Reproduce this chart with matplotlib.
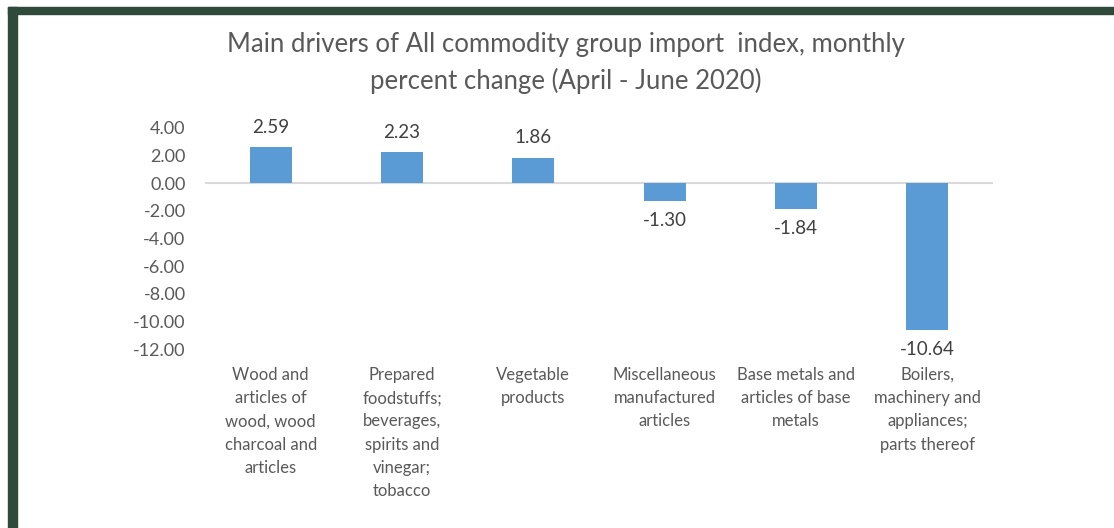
import matplotlib
matplotlib.use("Agg")

import matplotlib.pyplot as plt
from matplotlib.patches import Rectangle

categories = [
    "Wood and\narticles of\nwood, wood\ncharcoal and\narticles",
    "Prepared\nfoodstuffs;\nbeverages,\nspirits and\nvinegar;\ntobacco",
    "Vegetable\nproducts",
    "Miscellaneous\nmanufactured\narticles",
    "Base metals and\narticles of base\nmetals",
    "Boilers,\nmachinery and\nappliances;\nparts thereof",
]
values = [2.59, 2.23, 1.86, -1.30, -1.84, -10.64]
y_ticks = [4, 2, 0, -2, -4, -6, -8, -10, -12]

title = ("Main drivers of All commodity group import  index, monthly\n"
         "percent change (April - June 2020)")

plt.rcParams["font.family"] = ["Lato", "DejaVu Sans"]

W, H = 1114, 528
fig = plt.figure(figsize=(W / 100, H / 100), dpi=100)
fig.patch.set_facecolor("white")

# dark green frame on left and top
fig.patches.append(Rectangle((8 / W, 0), 9 / W, (H - 7) / H,
                             transform=fig.transFigure, color="#2F4A3A", zorder=0))
fig.patches.append(Rectangle((8 / W, (H - 14) / H), (W - 8) / W, 7 / H,
                             transform=fig.transFigure, color="#2F4A3A", zorder=0))

ax = fig.add_axes([205 / W, (H - 349) / H, (993 - 205) / W, (349 - 128) / H])
x = list(range(len(values)))
ax.bar(x, values, width=0.32, color="#5B9BD5", zorder=2)
ax.axhline(0, color="#D9D9D9", lw=1.5, zorder=1)

ax.set_xlim(-0.5, len(values) - 0.5)
ax.set_ylim(-12, 4)
ax.set_yticks(y_ticks)
ax.set_yticklabels([f"{v:.2f}" for v in y_ticks])
ax.set_xticks(x)
ax.set_xticklabels(categories, fontsize=12, color="#595959", linespacing=1.55, va="top")
ax.tick_params(axis="x", length=0, pad=13)
ax.tick_params(axis="y", length=0, pad=14, labelsize=13, labelcolor="#595959")
for s in ax.spines.values():
    s.set_visible(False)

for xi, v in zip(x, values):
    if v >= 0:
        ax.annotate(f"{v:.2f}", (xi, v), xytext=(0, 8), textcoords="offset points",
                    ha="center", va="bottom", fontsize=13.5, color="#404040")
    else:
        ax.annotate(f"{v:.2f}", (xi, v), xytext=(0, -8), textcoords="offset points",
                    ha="center", va="top", fontsize=13.5, color="#404040")

fig.text(566 / W, 1 - 63 / H, title, ha="center", va="center", fontsize=18.5,
         color="#595959", linespacing=1.48)

plt.savefig("out.png", dpi=100)
plt.close()
